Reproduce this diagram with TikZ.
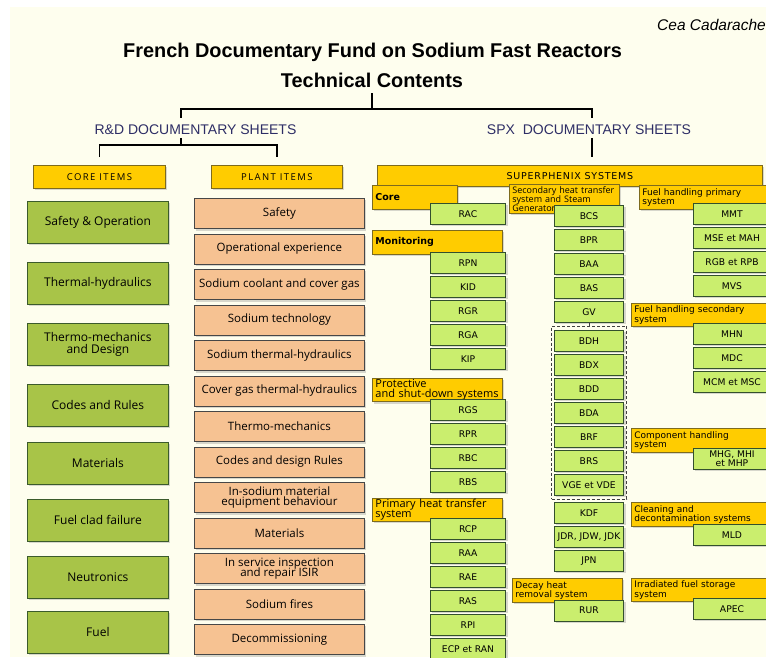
\documentclass[tikz,border=0pt]{standalone}
\usepackage{fontspec}
\setmainfont{Liberation Sans}
\newfontfamily\comicfont{Open Sans}
\newfontfamily\capsfont[LetterSpace=15]{Open Sans}
\newfontfamily\verdfont{DejaVu Sans}
\newfontfamily\verdcaps[LetterSpace=8]{DejaVu Sans}
\usetikzlibrary{positioning, shadows, fit}
\definecolor{cream}{HTML}{FEFEEE}
\definecolor{navy}{HTML}{2E2E66}
\definecolor{gold}{HTML}{FFCC00}
\definecolor{goldline}{HTML}{7D6B1E}
\definecolor{olive}{HTML}{A8C448}
\definecolor{oliveline}{HTML}{3B5B2B}
\definecolor{peach}{HTML}{F6C292}
\definecolor{peachline}{HTML}{474747}
\definecolor{lime}{HTML}{CAEE6E}
\definecolor{limeline}{HTML}{33502D}
\tikzset{
	item/.style={
		rectangle,
		draw, line width=0.8pt,
		inner sep=1pt,
		align=center,
		drop shadow={shadow xshift=2pt, shadow yshift=-2pt, opacity=0.3},
	},
	head/.style={item, draw=goldline, fill=gold, anchor=north west,
		minimum height=23pt, font=\capsfont\fontsize{9.5}{10}\selectfont},
	core/.style={item, draw=oliveline, fill=olive, anchor=north west,
		minimum width=141pt, minimum height=42pt, font=\comicfont\fontsize{12}{12.5}\selectfont},
	plant/.style={item, draw=peachline, fill=peach,
		minimum width=170pt, minimum height=30.2pt, font=\comicfont\fontsize{11.5}{12}\selectfont},
	spx/.style={item, draw=limeline, fill=lime,
		minimum width=#1, minimum height=20.5pt, font=\verdfont\fontsize{9.2}{10}\selectfont},
	spx/.default=75.2pt,
	sys/.style={item, draw=goldline, fill=gold, anchor=north west,
		inner xsep=3pt, inner ysep=1pt, align=left, font=\verdfont\fontsize{9}{9.5}\selectfont},
	branch/.style={line width=1.6pt, draw=black},
}
\begin{document}
\begin{tikzpicture}[x=1pt, y=-1pt]
	\useasboundingbox (0,0) rectangle (766,657);
	\fill[white] (0,0) rectangle (766,657);
	\fill[cream] (10,7) rectangle (766,657);

	% titles
	\node[font=\bfseries\fontsize{19.9}{20}\selectfont, anchor=base] (title) at (372.5,57.5) {French Documentary Fund on Sodium Fast Reactors};
	\node[font=\bfseries\fontsize{19.9}{20}\selectfont, anchor=base] (tech) at (372,87.3) {Technical Contents};
	\node[font=\itshape\fontsize{15.5}{16}\selectfont, anchor=base east, inner sep=0pt] (cea) at (766,30.7) {Cea Cadarache};
	\node[text=navy, font=\fontsize{14}{15}\selectfont, anchor=base] (rd) at (195.5,134.3) {R\&D DOCUMENTARY SHEETS};
	\node[text=navy, font=\fontsize{14}{15}\selectfont, anchor=base] (spxs) at (589,134.3) {SPX\ \ DOCUMENTARY SHEETS};

	% headings
	\node[head, minimum width=132pt] (coreh) at (33,165) {CORE ITEMS};
	\node[head, minimum width=131pt] (planth) at (211,165) {PLANT ITEMS};
	\node[head, minimum width=385pt, minimum height=21pt, font=\verdcaps\fontsize{9.5}{10}\selectfont] (sph) at (377,165) {SUPERPHENIX SYSTEMS};

	% tree
	\coordinate (fork) at (373,109);
	\coordinate (rdx) at (181,145);
	\coordinate (spxx) at (592,150);
	\draw[branch] ([yshift=-2pt]tech.south) -- (tech.south |- fork);
	\draw[branch] ([yshift=3pt]rd.north -| rdx) |- (fork) -| ([yshift=3pt]spxs.north -| spxx);
	\draw[branch] (rd.south -| rdx) -- (rdx);
	\draw[branch] ([yshift=8pt]coreh.north) |- (rdx) -| ([yshift=8pt]planth.north);
	\draw[branch] (spxs.south -| spxx) -- ([yshift=8pt]sph.north -| spxx);

	% core items
	\node[core] (safe) at (27,201) {Safety \& Operation};
	\node[core] (thermo) at (27,262) {Thermal-hydraulics};
	\node[core] (mech) at (27,323) {Thermo-mechanics\\and Design};
	\node[core] (codes) at (27,384) {Codes and Rules};
	\node[core] (mat) at (27,442) {Materials};
	\node[core] (clad) at (27,499) {Fuel clad failure};
	\node[core] (neutr) at (27,556) {Neutronics};
	\node[core] (fuel) at (27,611) {Fuel};

	% plant items
	\node[plant, anchor=north west] (psafe) at (194,198) {Safety};
	\node[plant, below=4.5pt of psafe] (pexp) {Operational experience};
	\node[plant, below=4.5pt of pexp] (pcool) {Sodium coolant and cover gas};
	\node[plant, below=4.5pt of pcool] (ptech) {Sodium technology};
	\node[plant, below=4.5pt of ptech] (phyd) {Sodium thermal-hydraulics};
	\node[plant, below=4.5pt of phyd] (pgas) {Cover gas thermal-hydraulics};
	\node[plant, below=4.5pt of pgas] (pmech) {Thermo-mechanics};
	\node[plant, below=4.5pt of pmech] (pcode) {Codes and design Rules};
	\node[plant, below=4.5pt of pcode] (pinsod) {In-sodium material\\[-1.5pt]equipment behaviour};
	\node[plant, below=4.5pt of pinsod] (pmat) {Materials};
	\node[plant, below=4.5pt of pmat] (pisir) {In service inspection\\[-1.5pt]and repair ISIR};
	\node[plant, below=4.5pt of pisir] (pfire) {Sodium fires};
	\node[plant, below=4.5pt of pfire] (pdec) {Decommissioning};

	% system labels
	\node[sys, text width=79pt, minimum height=24pt, font=\verdfont\bfseries\fontsize{9.5}{10}\selectfont] (core) at (372,185) {Core};
	\node[sys, text width=124pt, minimum height=24pt, font=\verdfont\bfseries\fontsize{9.5}{10}\selectfont] (monit) at (372,230) {Monitoring};
	\node[sys, text width=124pt, minimum height=22pt, font=\comicfont\fontsize{11}{10.5}\selectfont] (prot) at (372,378) {Protective\\and shut-down systems};
	\node[sys, text width=124pt, minimum height=23pt, font=\comicfont\fontsize{11}{10}\selectfont] (prim) at (372,498) {Primary heat transfer\\system};
	\node[sys, text width=104pt, minimum height=29pt, font=\comicfont\fontsize{9}{9}\selectfont] (sec) at (509,184) {Secondary heat transfer\\system and Steam\\Generator};
	\node[sys, text width=104pt, minimum height=24pt] (decay) at (512,578) {Decay heat\\removal system};
	\node[sys, text width=134pt, minimum height=24pt] (fhp) at (639,185) {Fuel handling primary\\system};
	\node[sys, text width=144pt, minimum height=23pt] (fhs) at (631,303) {Fuel handling secondary\\system};
	\node[sys, text width=144pt, minimum height=24pt] (comp) at (631,428) {Component handling\\system};
	\node[sys, text width=144pt, minimum height=24pt] (clean) at (631,502) {Cleaning and\\decontamination systems};
	\node[sys, text width=144pt, minimum height=23pt] (irr) at (631,578) {Irradiated fuel storage\\system};

	% first column
	\node[spx, anchor=north west] (RAC) at (430,203) {RAC};
	\node[spx, anchor=north west] (RPN) at (430,252) {RPN};
	\node[spx, below=2.7pt of RPN] (KID) {KID};
	\node[spx, below=2.7pt of KID] (RGR) {RGR};
	\node[spx, below=2.7pt of RGR] (RGA) {RGA};
	\node[spx, below=2.7pt of RGA] (KIP) {KIP};
	\node[spx, anchor=north west] (RGS) at (430,399) {RGS};
	\node[spx, below=2.7pt of RGS] (RPR) {RPR};
	\node[spx, below=2.7pt of RPR] (RBC) {RBC};
	\node[spx, below=2.7pt of RBC] (RBS) {RBS};
	\node[spx, anchor=north west] (RCP) at (430,518) {RCP};
	\node[spx, below=2.7pt of RCP] (RAA) {RAA};
	\node[spx, below=2.7pt of RAA] (RAE) {RAE};
	\node[spx, below=2.7pt of RAE] (RAS) {RAS};
	\node[spx, below=2.7pt of RAS] (RPI) {RPI};
	\node[spx, below=2.7pt of RPI] (ECP) {ECP et RAN};

	% second column
	\node[spx=69.2pt, anchor=north west] (BCS) at (554,205) {BCS};
	\node[spx=69.2pt, below=2.7pt of BCS] (BPR) {BPR};
	\node[spx=69.2pt, below=2.7pt of BPR] (BAA) {BAA};
	\node[spx=69.2pt, below=2.7pt of BAA] (BAS) {BAS};
	\node[spx=69.2pt, below=2.7pt of BAS] (GV) {GV};
	\node[spx=69.2pt, anchor=north west] (BDH) at (554,330) {BDH};
	\node[spx=69.2pt, below=2.7pt of BDH] (BDX) {BDX};
	\node[spx=69.2pt, below=2.7pt of BDX] (BDD) {BDD};
	\node[spx=69.2pt, below=2.7pt of BDD] (BDA) {BDA};
	\node[spx=69.2pt, below=2.7pt of BDA] (BRF) {BRF};
	\node[spx=69.2pt, below=2.7pt of BRF] (BRS) {BRS};
	\node[spx=69.2pt, below=2.7pt of BRS] (VGE) {VGE et VDE};
	\node[spx=69.2pt, anchor=north west] (KDF) at (554,502) {KDF};
	\node[spx=69.2pt, below=2.7pt of KDF] (JDR) {JDR, JDW, JDK};
	\node[spx=69.2pt, below=2.7pt of JDR] (JPN) {JPN};
	\node[spx=69.2pt, anchor=north west] (RUR) at (554,600) {RUR};
	\node[fit=(BDH)(VGE), draw=black!75, dash pattern=on 3pt off 2pt, line width=0.8pt, inner xsep=2.5pt, inner ysep=4pt] (grp) {};
	\draw[line width=0.8pt, black!75] (GV.south) -- (grp.north -| GV.south);

	% third column
	\node[spx=77.2pt, anchor=north west] (MMT) at (693,203) {MMT};
	\node[spx=77.2pt, below=2.7pt of MMT] (MSE) {MSE et MAH};
	\node[spx=77.2pt, below=2.7pt of MSE] (RGB) {RGB et RPB};
	\node[spx=77.2pt, below=2.7pt of RGB] (MVS) {MVS};
	\node[spx=77.2pt, anchor=north west] (MHN) at (693,323) {MHN};
	\node[spx=77.2pt, below=2.7pt of MHN] (MDC) {MDC};
	\node[spx=77.2pt, below=2.7pt of MDC] (MCM) {MCM et MSC};
	\node[spx=77.2pt, anchor=north west, font=\verdfont\fontsize{9.2}{8.5}\selectfont] (MHG) at (693,448) {MHG, MHI\\et MHP};
	\node[spx=77.2pt, anchor=north west] (MLD) at (693,524) {MLD};
	\node[spx=77.2pt, anchor=north west] (APEC) at (693,598) {APEC};
\end{tikzpicture}
\end{document}
